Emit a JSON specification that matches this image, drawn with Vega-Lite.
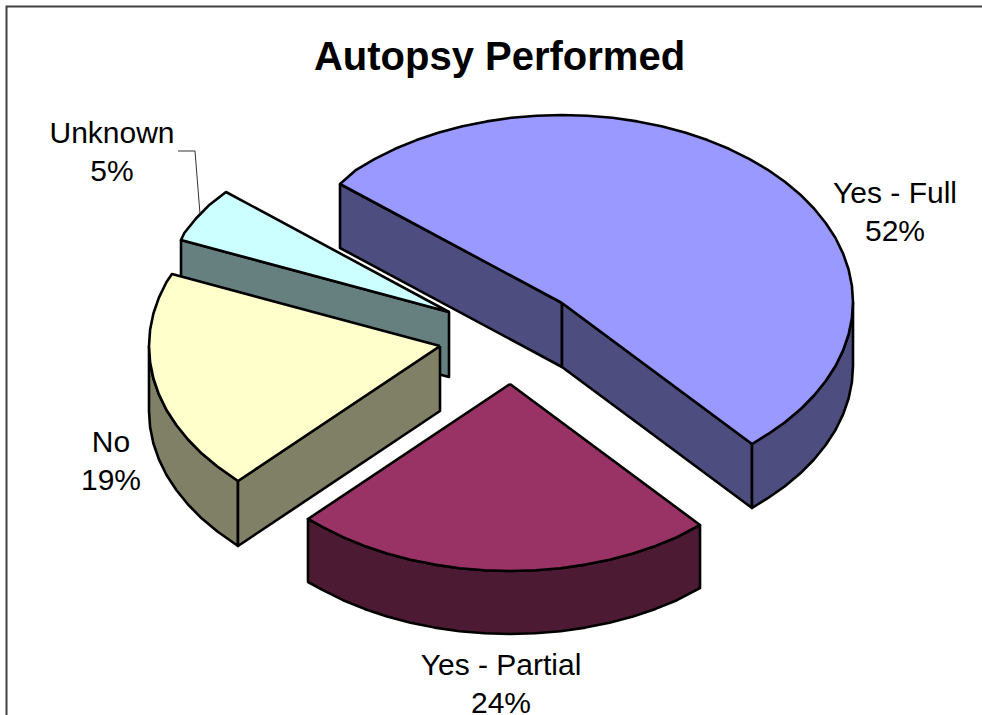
{"$schema":"https://vega.github.io/schema/vega-lite/v6.json","width":982,"height":715,"padding":0,"autosize":"none","background":"white","view":{"stroke":null},
"datasets":{
"slices":[
{"s":"a_cyan_side","i":0,"x":181,"y":240},{"s":"a_cyan_side","i":1,"x":449,"y":312},{"s":"a_cyan_side","i":2,"x":449,"y":377},{"s":"a_cyan_side","i":3,"x":181,"y":305},{"s":"a_cyan_side","i":4,"x":181,"y":240},
{"s":"b_cyan_top","i":0,"x":449,"y":312},{"s":"b_cyan_top","i":1,"x":181,"y":240},{"s":"b_cyan_top","i":2,"x":184.3,"y":233},{"s":"b_cyan_top","i":3,"x":196,"y":218.5},{"s":"b_cyan_top","i":4,"x":209.6,"y":204.7},{"s":"b_cyan_top","i":5,"x":226,"y":192},{"s":"b_cyan_top","i":6,"x":449,"y":312},
{"s":"c_yellow_outer","i":0,"x":149,"y":346},{"s":"c_yellow_outer","i":1,"x":150.1,"y":362.3},{"s":"c_yellow_outer","i":2,"x":153.4,"y":378.5},{"s":"c_yellow_outer","i":3,"x":158.9,"y":394.4},{"s":"c_yellow_outer","i":4,"x":166.5,"y":410},{"s":"c_yellow_outer","i":5,"x":176.3,"y":425},{"s":"c_yellow_outer","i":6,"x":188,"y":439.5},{"s":"c_yellow_outer","i":7,"x":201.6,"y":453.3},{"s":"c_yellow_outer","i":8,"x":217.1,"y":466.2},{"s":"c_yellow_outer","i":9,"x":238,"y":481},{"s":"c_yellow_outer","i":10,"x":238,"y":546},{"s":"c_yellow_outer","i":11,"x":217.1,"y":531.2},{"s":"c_yellow_outer","i":12,"x":201.6,"y":518.3},{"s":"c_yellow_outer","i":13,"x":188,"y":504.5},{"s":"c_yellow_outer","i":14,"x":176.3,"y":490},{"s":"c_yellow_outer","i":15,"x":166.5,"y":475},{"s":"c_yellow_outer","i":16,"x":158.9,"y":459.4},{"s":"c_yellow_outer","i":17,"x":153.4,"y":443.5},{"s":"c_yellow_outer","i":18,"x":150.1,"y":427.3},{"s":"c_yellow_outer","i":19,"x":149,"y":411},{"s":"c_yellow_outer","i":20,"x":149,"y":346},
{"s":"d_yellow_wall","i":0,"x":440,"y":346},{"s":"d_yellow_wall","i":1,"x":238,"y":481},{"s":"d_yellow_wall","i":2,"x":238,"y":546},{"s":"d_yellow_wall","i":3,"x":440,"y":411},{"s":"d_yellow_wall","i":4,"x":440,"y":346},
{"s":"e_yellow_top","i":0,"x":440,"y":346},{"s":"e_yellow_top","i":1,"x":238,"y":481},{"s":"e_yellow_top","i":2,"x":217.1,"y":466.2},{"s":"e_yellow_top","i":3,"x":201.6,"y":453.3},{"s":"e_yellow_top","i":4,"x":188,"y":439.5},{"s":"e_yellow_top","i":5,"x":176.3,"y":425},{"s":"e_yellow_top","i":6,"x":166.5,"y":410},{"s":"e_yellow_top","i":7,"x":158.9,"y":394.4},{"s":"e_yellow_top","i":8,"x":153.4,"y":378.5},{"s":"e_yellow_top","i":9,"x":150.1,"y":362.3},{"s":"e_yellow_top","i":10,"x":149,"y":346},{"s":"e_yellow_top","i":11,"x":150.1,"y":329.7},{"s":"e_yellow_top","i":12,"x":153.4,"y":313.5},{"s":"e_yellow_top","i":13,"x":158.9,"y":297.6},{"s":"e_yellow_top","i":14,"x":166.5,"y":282},{"s":"e_yellow_top","i":15,"x":172,"y":274},{"s":"e_yellow_top","i":16,"x":440,"y":346},
{"s":"f_blue_wall_l","i":0,"x":340,"y":184},{"s":"f_blue_wall_l","i":1,"x":562,"y":303},{"s":"f_blue_wall_l","i":2,"x":562,"y":367},{"s":"f_blue_wall_l","i":3,"x":340,"y":248},{"s":"f_blue_wall_l","i":4,"x":340,"y":184},
{"s":"g_blue_wall_r","i":0,"x":562,"y":303},{"s":"g_blue_wall_r","i":1,"x":752,"y":444},{"s":"g_blue_wall_r","i":2,"x":752,"y":508},{"s":"g_blue_wall_r","i":3,"x":562,"y":367},{"s":"g_blue_wall_r","i":4,"x":562,"y":303},
{"s":"h_blue_outer","i":0,"x":853,"y":302},{"s":"h_blue_outer","i":1,"x":851.9,"y":318.3},{"s":"h_blue_outer","i":2,"x":848.6,"y":334.5},{"s":"h_blue_outer","i":3,"x":843.1,"y":350.4},{"s":"h_blue_outer","i":4,"x":835.5,"y":366},{"s":"h_blue_outer","i":5,"x":825.7,"y":381},{"s":"h_blue_outer","i":6,"x":814,"y":395.5},{"s":"h_blue_outer","i":7,"x":800.4,"y":409.3},{"s":"h_blue_outer","i":8,"x":784.9,"y":422.2},{"s":"h_blue_outer","i":9,"x":767.8,"y":434.2},{"s":"h_blue_outer","i":10,"x":752,"y":444},{"s":"h_blue_outer","i":11,"x":752,"y":508},{"s":"h_blue_outer","i":12,"x":767.8,"y":498.2},{"s":"h_blue_outer","i":13,"x":784.9,"y":486.2},{"s":"h_blue_outer","i":14,"x":800.4,"y":473.3},{"s":"h_blue_outer","i":15,"x":814,"y":459.5},{"s":"h_blue_outer","i":16,"x":825.7,"y":445},{"s":"h_blue_outer","i":17,"x":835.5,"y":430},{"s":"h_blue_outer","i":18,"x":843.1,"y":414.4},{"s":"h_blue_outer","i":19,"x":848.6,"y":398.5},{"s":"h_blue_outer","i":20,"x":851.9,"y":382.3},{"s":"h_blue_outer","i":21,"x":853,"y":366},{"s":"h_blue_outer","i":22,"x":853,"y":302},
{"s":"i_blue_top","i":0,"x":562,"y":303},{"s":"i_blue_top","i":1,"x":340,"y":184},{"s":"i_blue_top","i":2,"x":356.2,"y":169.8},{"s":"i_blue_top","i":3,"x":374.9,"y":158.8},{"s":"i_blue_top","i":4,"x":395.1,"y":148.8},{"s":"i_blue_top","i":5,"x":416.5,"y":140.1},{"s":"i_blue_top","i":6,"x":439,"y":132.5},{"s":"i_blue_top","i":7,"x":462.5,"y":126.3},{"s":"i_blue_top","i":8,"x":486.7,"y":121.4},{"s":"i_blue_top","i":9,"x":511.5,"y":117.8},{"s":"i_blue_top","i":10,"x":536.6,"y":115.7},{"s":"i_blue_top","i":11,"x":562,"y":115},{"s":"i_blue_top","i":12,"x":587.4,"y":115.7},{"s":"i_blue_top","i":13,"x":612.5,"y":117.8},{"s":"i_blue_top","i":14,"x":637.3,"y":121.4},{"s":"i_blue_top","i":15,"x":661.5,"y":126.3},{"s":"i_blue_top","i":16,"x":685,"y":132.5},{"s":"i_blue_top","i":17,"x":707.5,"y":140.1},{"s":"i_blue_top","i":18,"x":728.9,"y":148.8},{"s":"i_blue_top","i":19,"x":749.1,"y":158.8},{"s":"i_blue_top","i":20,"x":767.8,"y":169.8},{"s":"i_blue_top","i":21,"x":784.9,"y":181.8},{"s":"i_blue_top","i":22,"x":800.4,"y":194.7},{"s":"i_blue_top","i":23,"x":814,"y":208.5},{"s":"i_blue_top","i":24,"x":825.7,"y":223},{"s":"i_blue_top","i":25,"x":835.5,"y":238},{"s":"i_blue_top","i":26,"x":843.1,"y":253.6},{"s":"i_blue_top","i":27,"x":848.6,"y":269.5},{"s":"i_blue_top","i":28,"x":851.9,"y":285.7},{"s":"i_blue_top","i":29,"x":853,"y":302},{"s":"i_blue_top","i":30,"x":851.9,"y":318.3},{"s":"i_blue_top","i":31,"x":848.6,"y":334.5},{"s":"i_blue_top","i":32,"x":843.1,"y":350.4},{"s":"i_blue_top","i":33,"x":835.5,"y":366},{"s":"i_blue_top","i":34,"x":825.7,"y":381},{"s":"i_blue_top","i":35,"x":814,"y":395.5},{"s":"i_blue_top","i":36,"x":800.4,"y":409.3},{"s":"i_blue_top","i":37,"x":784.9,"y":422.2},{"s":"i_blue_top","i":38,"x":767.8,"y":434.2},{"s":"i_blue_top","i":39,"x":752,"y":444},{"s":"i_blue_top","i":40,"x":562,"y":303},
{"s":"j_purple_side","i":0,"x":700,"y":525},{"s":"j_purple_side","i":1,"x":676.9,"y":537.2},{"s":"j_purple_side","i":2,"x":655.5,"y":545.9},{"s":"j_purple_side","i":3,"x":633,"y":553.5},{"s":"j_purple_side","i":4,"x":609.5,"y":559.7},{"s":"j_purple_side","i":5,"x":585.3,"y":564.6},{"s":"j_purple_side","i":6,"x":560.5,"y":568.2},{"s":"j_purple_side","i":7,"x":535.4,"y":570.3},{"s":"j_purple_side","i":8,"x":510,"y":571},{"s":"j_purple_side","i":9,"x":484.6,"y":570.3},{"s":"j_purple_side","i":10,"x":459.5,"y":568.2},{"s":"j_purple_side","i":11,"x":434.7,"y":564.6},{"s":"j_purple_side","i":12,"x":410.5,"y":559.7},{"s":"j_purple_side","i":13,"x":387,"y":553.5},{"s":"j_purple_side","i":14,"x":364.5,"y":545.9},{"s":"j_purple_side","i":15,"x":343.1,"y":537.2},{"s":"j_purple_side","i":16,"x":322.9,"y":527.2},{"s":"j_purple_side","i":17,"x":308,"y":519},{"s":"j_purple_side","i":18,"x":308,"y":582},{"s":"j_purple_side","i":19,"x":322.9,"y":590.2},{"s":"j_purple_side","i":20,"x":343.1,"y":600.2},{"s":"j_purple_side","i":21,"x":364.5,"y":608.9},{"s":"j_purple_side","i":22,"x":387,"y":616.5},{"s":"j_purple_side","i":23,"x":410.5,"y":622.7},{"s":"j_purple_side","i":24,"x":434.7,"y":627.6},{"s":"j_purple_side","i":25,"x":459.5,"y":631.2},{"s":"j_purple_side","i":26,"x":484.6,"y":633.3},{"s":"j_purple_side","i":27,"x":510,"y":634},{"s":"j_purple_side","i":28,"x":535.4,"y":633.3},{"s":"j_purple_side","i":29,"x":560.5,"y":631.2},{"s":"j_purple_side","i":30,"x":585.3,"y":627.6},{"s":"j_purple_side","i":31,"x":609.5,"y":622.7},{"s":"j_purple_side","i":32,"x":633,"y":616.5},{"s":"j_purple_side","i":33,"x":655.5,"y":608.9},{"s":"j_purple_side","i":34,"x":676.9,"y":600.2},{"s":"j_purple_side","i":35,"x":700,"y":588},{"s":"j_purple_side","i":36,"x":700,"y":525},
{"s":"k_purple_top","i":0,"x":510,"y":384},{"s":"k_purple_top","i":1,"x":700,"y":525},{"s":"k_purple_top","i":2,"x":676.9,"y":537.2},{"s":"k_purple_top","i":3,"x":655.5,"y":545.9},{"s":"k_purple_top","i":4,"x":633,"y":553.5},{"s":"k_purple_top","i":5,"x":609.5,"y":559.7},{"s":"k_purple_top","i":6,"x":585.3,"y":564.6},{"s":"k_purple_top","i":7,"x":560.5,"y":568.2},{"s":"k_purple_top","i":8,"x":535.4,"y":570.3},{"s":"k_purple_top","i":9,"x":510,"y":571},{"s":"k_purple_top","i":10,"x":484.6,"y":570.3},{"s":"k_purple_top","i":11,"x":459.5,"y":568.2},{"s":"k_purple_top","i":12,"x":434.7,"y":564.6},{"s":"k_purple_top","i":13,"x":410.5,"y":559.7},{"s":"k_purple_top","i":14,"x":387,"y":553.5},{"s":"k_purple_top","i":15,"x":364.5,"y":545.9},{"s":"k_purple_top","i":16,"x":343.1,"y":537.2},{"s":"k_purple_top","i":17,"x":322.9,"y":527.2},{"s":"k_purple_top","i":18,"x":308,"y":519},{"s":"k_purple_top","i":19,"x":510,"y":384}
],
"frame":[{"i":0,"x":6.5,"y":715},{"i":1,"x":6.5,"y":6.5},{"i":2,"x":982,"y":6.5}],
"leader":[{"i":0,"x":178,"y":151},{"i":1,"x":195,"y":151},{"i":2,"x":200,"y":214}],
"labels":[
{"t":"Yes - Full\n52%","x":895,"y":194},
{"t":"Yes - Partial\n24%","x":501,"y":666},
{"t":"No\n19%","x":111,"y":443},
{"t":"Unknown\n5%","x":112,"y":134}
],
"title":[{"t":"Autopsy Performed","x":499.5,"y":58}]
},
"encoding":{
"x":{"field":"x","type":"quantitative","axis":null,"scale":{"domain":[0,982],"nice":false,"zero":false}},
"y":{"field":"y","type":"quantitative","axis":null,"scale":{"domain":[715,0],"nice":false,"zero":false}}
},
"layer":[
{"data":{"name":"frame"},"mark":{"type":"line","stroke":"#404040","strokeWidth":2,"clip":true},"encoding":{"order":{"field":"i","type":"quantitative"}}},
{"data":{"name":"slices"},"mark":{"type":"line","filled":true,"stroke":"black","strokeWidth":2.6,"strokeJoin":"round","opacity":1},
"encoding":{"order":{"field":"i","type":"quantitative"},"detail":{"field":"s"},
"fill":{"field":"s","type":"nominal","legend":null,"scale":{"domain":["a_cyan_side","b_cyan_top","c_yellow_outer","d_yellow_wall","e_yellow_top","f_blue_wall_l","g_blue_wall_r","h_blue_outer","i_blue_top","j_purple_side","k_purple_top"],"range":["#668080","#ccffff","#808066","#808066","#ffffcc","#4d4d80","#4d4d80","#4d4d80","#9999ff","#4d1a33","#993366"]}}}},
{"data":{"name":"leader"},"mark":{"type":"line","stroke":"#333333","strokeWidth":1},"encoding":{"order":{"field":"i","type":"quantitative"}}},
{"data":{"name":"labels"},"mark":{"type":"text","font":"Liberation Sans","fontSize":30,"color":"black","align":"center","baseline":"middle","lineBreak":"\n","lineHeight":37.5},"encoding":{"text":{"field":"t"}}},
{"data":{"name":"title"},"mark":{"type":"text","font":"Liberation Sans","fontSize":40,"fontWeight":"bold","color":"black","align":"center","baseline":"middle"},"encoding":{"text":{"field":"t"}}}
]}
